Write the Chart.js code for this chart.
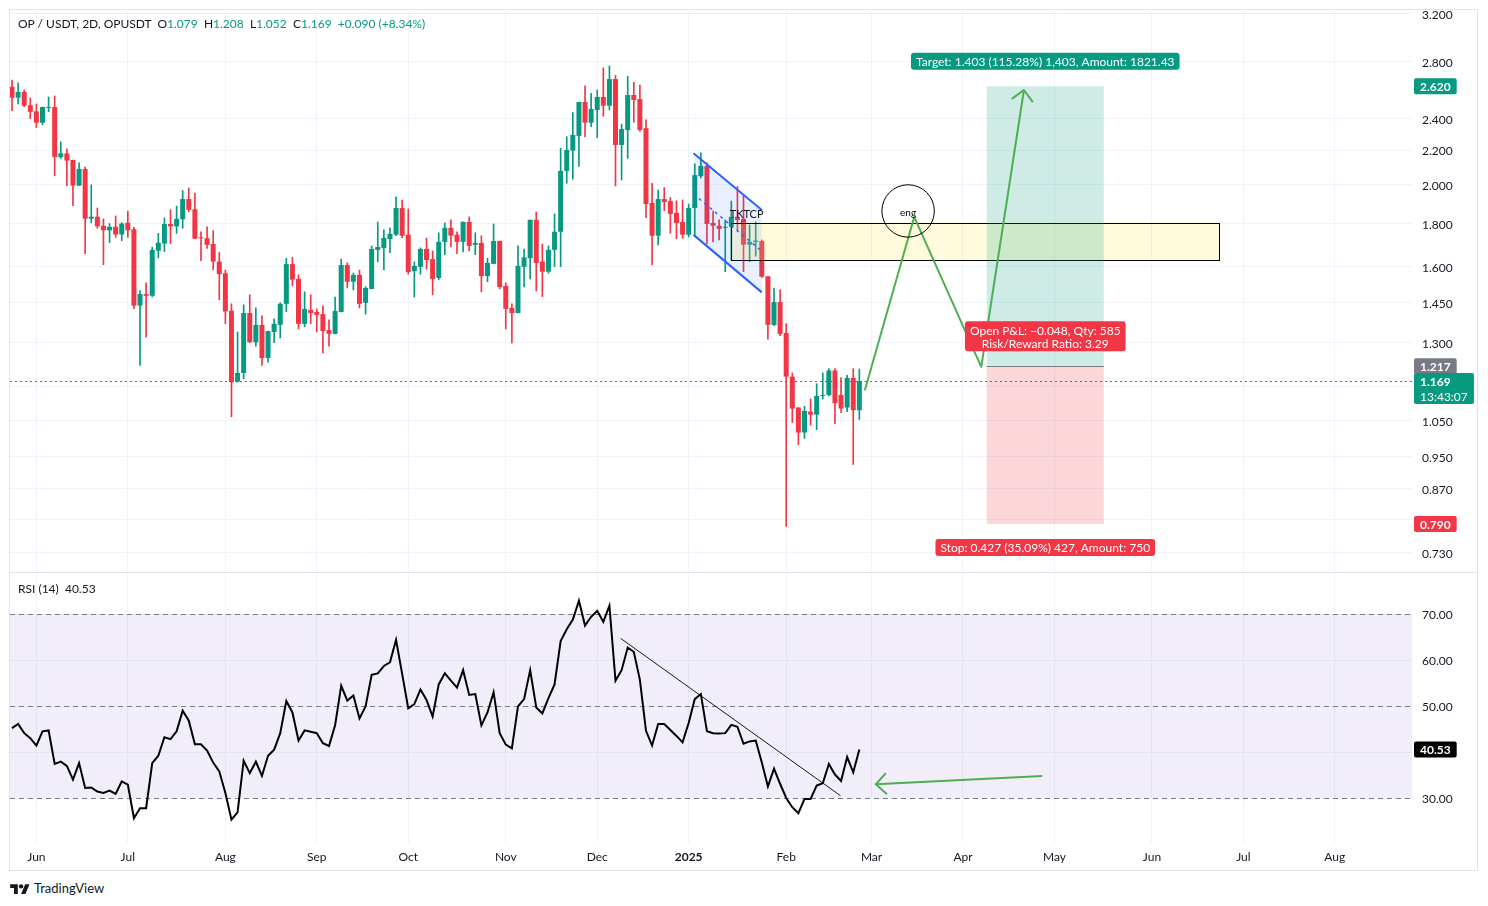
<!DOCTYPE html>
<html lang="en">
<head>
<meta charset="UTF-8">
<title>OP / USDT, 2D</title>
<script src="https://cdn.jsdelivr.net/npm/chart.js"></script>
<style>
  html, body { margin: 0; padding: 0; background: #fff; }
  body { width: 1488px; height: 906px; position: relative; overflow: hidden;
         font-family: Lato, "Liberation Sans", Arial, sans-serif; color: #131722; }
  #frame { position: absolute; left: 9px; top: 9px; width: 1469px; height: 862px;
           border: 1px solid #e0e3eb; box-sizing: border-box; }
  #sep { position: absolute; left: 9px; top: 572px; width: 1469px; height: 1px; background: #e0e3eb; }
  canvas { position: absolute; left: 0; }
  #price { top: 0; }
  #rsi { top: 573px; }
  .legend { position: absolute; left: 18px; font-size: 12px; white-space: pre; line-height: 14px; }
  .g { color: #089981; }
  #logo { position: absolute; left: 10px; top: 880px; height: 16px; display: flex; align-items: center; gap: 4px;
          font-size: 13px; color: #131722; }
</style>
</head>
<body>
<div id="frame"></div>
<div id="sep"></div>
<canvas id="price" width="1488" height="573"></canvas>
<canvas id="rsi" width="1488" height="300"></canvas>
<div class="legend" id="legend" style="top:17px"></div>
<div class="legend" id="rsiLegend" style="top:582px"></div>
<div id="logo">
  <svg width="20" height="12" viewBox="0 0 36 22"><path d="M14 22H7V11H0V4h14v18zM28 22h-8l7.5-18h8L28 22z" fill="#131722"/><circle cx="20" cy="8" r="4" fill="#131722"/></svg>
  <span>TradingView</span>
</div>
<script>
// 2D candles, OP/USDT, bar 0 = late May 2024
const open = [
  2.617,2.539,2.579,2.487,2.446,2.371,2.468,2.475,2.157,2.180,
  2.141,1.996,2.089,1.823,1.833,1.788,1.766,1.783,1.746,1.803,
  1.771,1.437,1.483,1.476,1.670,1.703,1.797,1.785,1.820,1.924,
  1.871,1.731,1.728,1.701,1.621,1.570,1.417,1.167,1.195,1.408,
  1.300,1.363,1.245,1.337,1.363,1.444,1.610,1.546,1.367,1.420,
  1.412,1.404,1.344,1.330,1.412,1.606,1.534,1.563,1.448,1.504,
  1.674,1.682,1.724,1.745,1.877,1.745,1.579,1.598,1.678,1.632,
  1.550,1.711,1.778,1.745,1.711,1.807,1.697,1.706,1.558,1.611,
  1.715,1.517,1.428,1.408,1.598,1.636,1.817,1.621,1.577,1.674,
  1.759,2.078,2.197,2.287,2.509,2.371,2.455,2.544,2.484,2.672,
  2.231,2.324,2.558,2.530,2.336,1.903,1.740,1.924,1.913,1.852,
  1.807,1.745,1.877,2.048,2.107,1.802,1.788,1.778,1.783,1.832,
  1.822,1.698,1.711,1.715,1.557,1.363,1.451,1.333,1.183,1.087,
  1.015,1.075,1.066,1.122,1.125,1.203,1.125,1.087,1.179,1.079
];
const high = [
  2.665,2.645,2.593,2.537,2.495,2.475,2.544,2.551,2.250,2.207,
  2.141,2.124,2.100,2.000,1.877,1.822,1.799,1.837,1.803,1.862,
  1.780,1.497,1.529,1.686,1.751,1.827,1.868,1.887,1.969,1.983,
  1.956,1.759,1.783,1.764,1.662,1.584,1.444,1.337,1.440,1.480,
  1.428,1.397,1.340,1.386,1.448,1.636,1.640,1.563,1.492,1.480,
  1.424,1.436,1.382,1.471,1.632,1.615,1.571,1.584,1.513,1.692,
  1.807,1.768,1.778,1.935,1.919,1.872,1.620,1.683,1.729,1.669,
  1.754,1.802,1.817,1.759,1.807,1.832,1.754,1.740,1.636,1.797,
  1.715,1.529,1.444,1.692,1.678,1.817,1.857,1.701,1.692,1.847,
  2.211,2.282,2.437,2.509,2.623,2.569,2.593,2.755,2.769,2.700,
  2.362,2.693,2.648,2.628,2.389,2.009,1.972,1.985,1.932,1.915,
  1.919,1.898,2.118,2.184,2.124,1.862,1.817,1.817,1.913,1.991,
  1.940,1.792,1.807,1.720,1.557,1.508,1.500,1.367,1.195,1.087,
  1.091,1.113,1.160,1.195,1.209,1.209,1.180,1.187,1.209,1.208
];
const low = [
  2.450,2.497,2.477,2.397,2.339,2.358,2.443,2.050,2.150,1.996,
  1.889,1.996,1.657,1.803,1.776,1.607,1.707,1.732,1.717,1.732,
  1.425,1.220,1.318,1.472,1.638,1.666,1.703,1.751,1.776,1.858,
  1.726,1.625,1.680,1.585,1.460,1.368,1.060,1.165,1.176,1.298,
  1.286,1.220,1.231,1.298,1.315,1.413,1.517,1.348,1.356,1.367,
  1.337,1.262,1.286,1.330,1.412,1.508,1.500,1.428,1.404,1.504,
  1.620,1.584,1.661,1.740,1.731,1.566,1.471,1.566,1.588,1.480,
  1.542,1.652,1.688,1.657,1.665,1.669,1.652,1.492,1.534,1.611,
  1.504,1.348,1.297,1.408,1.512,1.546,1.496,1.473,1.570,1.599,
  1.599,2.009,2.032,2.104,2.282,2.345,2.276,2.413,2.455,1.994,
  2.027,2.150,2.374,2.315,1.828,1.606,1.697,1.863,1.752,1.726,
  1.728,1.734,1.740,2.038,1.701,1.711,1.720,1.577,1.628,1.768,
  1.577,1.621,1.645,1.552,1.311,1.360,1.323,0.785,1.043,0.982,
  0.999,1.036,1.023,1.113,1.122,1.040,1.072,1.075,0.930,1.052
];
const close = [
  2.539,2.579,2.484,2.443,2.371,2.475,2.475,2.158,2.180,2.137,
  1.996,2.089,1.823,1.833,1.785,1.766,1.783,1.746,1.799,1.766,
  1.437,1.483,1.476,1.674,1.707,1.797,1.785,1.822,1.924,1.868,
  1.726,1.728,1.697,1.621,1.566,1.414,1.165,1.195,1.408,1.300,
  1.363,1.245,1.340,1.367,1.444,1.610,1.543,1.367,1.424,1.408,
  1.401,1.340,1.330,1.416,1.606,1.534,1.563,1.444,1.508,1.678,
  1.687,1.729,1.749,1.877,1.740,1.575,1.602,1.678,1.628,1.546,
  1.711,1.778,1.740,1.711,1.807,1.692,1.706,1.558,1.615,1.715,
  1.512,1.424,1.408,1.602,1.640,1.817,1.615,1.577,1.674,1.759,
  2.078,2.201,2.293,2.509,2.371,2.462,2.544,2.484,2.672,2.231,
  2.330,2.558,2.523,2.324,1.898,1.740,1.924,1.908,1.847,1.802,
  1.745,1.877,2.054,2.107,1.797,1.788,1.773,1.783,1.832,1.817,
  1.698,1.711,1.717,1.555,1.363,1.451,1.330,1.183,1.084,1.015,
  1.077,1.066,1.122,1.125,1.203,1.100,1.084,1.179,1.079,1.169
];
const rsi = [
  45.2,46.1,44.1,43.0,41.4,44.5,44.7,37.4,37.9,37.0,
  34.0,37.6,32.2,32.3,31.4,31.1,31.6,30.9,33.6,32.9,
  25.6,27.8,27.8,37.6,39.2,43.2,42.8,44.5,49.0,46.8,
  41.7,41.7,40.3,37.7,35.8,31.1,25.3,26.9,38.1,35.4,
  37.9,34.8,39.2,40.5,44.1,51.1,48.6,42.5,44.7,44.4,
  44.1,41.9,41.3,45.8,54.4,51.2,52.3,47.3,49.9,56.8,
  57.1,58.7,59.5,64.4,57.0,49.5,50.4,53.6,51.3,47.7,
  54.7,57.1,55.5,54.0,57.8,52.4,52.6,45.8,48.6,53.0,
  44.1,41.6,40.8,49.9,51.5,57.8,49.7,48.4,51.7,54.7,
  64.1,66.7,68.8,72.9,67.5,69.4,70.7,68.3,71.8,55.5,
  57.8,62.7,61.8,55.7,44.6,41.4,46.1,46.1,44.8,43.5,
  42.1,46.3,51.5,52.6,44.5,44.1,44.0,44.1,45.9,45.5,
  41.8,42.3,42.5,37.7,32.5,36.4,33.1,30.0,28.0,26.7,
  29.8,29.8,32.7,33.2,37.4,35.1,33.7,38.9,35.6,40.53
];

// time axis: bar index where each month starts
const monthBars = [4, 19, 35, 50, 65, 81, 96, 111, 127, 141, 156, 171, 187, 202, 217];
const monthLabels = ['Jun','Jul','Aug','Sep','Oct','Nov','Dec','2025','Feb','Mar','Apr','May','Jun','Jul','Aug'];
const priceTicks = [3.2, 2.8, 2.4, 2.2, 2.0, 1.8, 1.6, 1.45, 1.3, 1.15, 1.05, 0.95, 0.87, 0.8, 0.73];
const rsiTicks = [70, 60, 50, 40, 30];
const rsiLevels = [70, 50, 30];

// drawings, in bar index / price
const zone = { from: 117.9, to: 198.0, top: 1.804, bottom: 1.628 };
const channelUpper = [[111.8, 2.181], [123.0, 1.867]];
const channelLower = [[111.8, 1.744], [123.0, 1.490]];
const pathPoints = [[139.9, 1.140], [148.0, 1.832], [159.0, 1.215], [166.0, 2.593]];
const circle = { bar: 147.0, price: 1.862, edgeBar: 151.3 };
const position = { from: 159.9, to: 179.1, entry: 1.217, target: 2.620, stop: 0.790 };
const rsiTrend = [[99.85, 64.7], [135.9, 30.5]];
const rsiArrow = [[169.0, 34.8], [141.7, 33.0]];

const GREEN = '#089981', RED = '#f23645', TEXT = '#131722', GRID = '#f0f3fa';
const FONT = 'Lato, "Liberation Sans", Arial, sans-serif';
const X_MIN = -0.33, X_MAX = 229.66;

const last = open.length - 1;
const change = close[last] - close[last - 1];
const fmt3 = v => v.toFixed(3);

document.getElementById('legend').innerHTML =
  'OP / USDT, 2D, OPUSDT  ' +
  'O<span class="g">' + fmt3(open[last]) + '</span>  ' +
  'H<span class="g">' + fmt3(high[last]) + '</span>  ' +
  'L<span class="g">' + fmt3(low[last]) + '</span>  ' +
  'C<span class="g">' + fmt3(close[last]) + '</span>  ' +
  '<span class="g">+' + fmt3(change) + ' (+' + (change / close[last - 1] * 100).toFixed(2) + '%)</span>';
document.getElementById('rsiLegend').textContent = 'RSI (14)  ' + rsi[last].toFixed(2);

const colors = open.map((o, i) => close[i] >= o ? GREEN : RED);
const wicks = open.map((o, i) => ({ x: i, y: [low[i], high[i]] }));
const bodies = open.map((o, i) => ({ x: i, y: [Math.min(o, close[i]), Math.max(o, close[i])] }));

function label(ctx, lines, cx, cy, bg) {
  ctx.font = '12px ' + FONT;
  const w = Math.max(...lines.map(t => ctx.measureText(t).width)) + 10;
  const h = lines.length * 13 + 4;
  ctx.fillStyle = bg;
  ctx.beginPath();
  ctx.roundRect(cx - w / 2, cy - h / 2, w, h, 3);
  ctx.fill();
  ctx.fillStyle = '#fff';
  ctx.textAlign = 'center';
  ctx.textBaseline = 'middle';
  lines.forEach((t, k) => ctx.fillText(t, cx, cy + 1 - (lines.length - 1) * 6.5 + k * 13));
}

function badge(ctx, lines, left, cy, bg) {
  ctx.font = 'bold 12px ' + FONT;
  const w = Math.max(...lines.map(t => ctx.measureText(t).width)) + 12;
  const h = lines.length * 15 + 1;
  ctx.fillStyle = bg;
  ctx.beginPath();
  ctx.roundRect(left, cy - 8, w, h, 2);
  ctx.fill();
  ctx.fillStyle = '#fff';
  ctx.textAlign = 'left';
  ctx.textBaseline = 'middle';
  lines.forEach((t, k) => {
    ctx.font = (k === 0 ? 'bold ' : '') + '12px ' + FONT;
    ctx.fillText(t, left + 6, cy + 1 + k * 15);
  });
}

function arrowHead(ctx, fx, fy, tx, ty, len) {
  const a = Math.atan2(ty - fy, tx - fx);
  ctx.beginPath();
  ctx.moveTo(tx - len * Math.cos(a - Math.PI / 4), ty - len * Math.sin(a - Math.PI / 4));
  ctx.lineTo(tx, ty);
  ctx.lineTo(tx - len * Math.cos(a + Math.PI / 4), ty - len * Math.sin(a + Math.PI / 4));
  ctx.stroke();
}

const priceDrawings = {
  id: 'priceDrawings',
  afterDatasetsDraw(chart) {
    const { ctx, chartArea: a, scales: { x, y } } = chart;
    const X = v => x.getPixelForValue(v), Y = v => y.getPixelForValue(v);
    ctx.save();
    ctx.beginPath();
    ctx.rect(a.left, a.top, a.right - a.left, a.bottom - a.top);
    ctx.clip();

    // supply zone
    const zx0 = X(zone.from), zx1 = X(zone.to), zy0 = Y(zone.top), zy1 = Y(zone.bottom);
    ctx.fillStyle = 'rgba(255, 235, 59, 0.18)';
    ctx.fillRect(zx0, zy0, zx1 - zx0, zy1 - zy0);
    ctx.strokeStyle = '#000';
    ctx.lineWidth = 1;
    ctx.strokeRect(Math.round(zx0) + 0.5, Math.round(zy0) + 0.5, Math.round(zx1 - zx0), Math.round(zy1 - zy0));

    // falling channel
    const u = channelUpper.map(p => [X(p[0]), Y(p[1])]);
    const l = channelLower.map(p => [X(p[0]), Y(p[1])]);
    ctx.fillStyle = 'rgba(41, 98, 255, 0.1)';
    ctx.beginPath();
    ctx.moveTo(u[0][0], u[0][1]); ctx.lineTo(u[1][0], u[1][1]);
    ctx.lineTo(l[1][0], l[1][1]); ctx.lineTo(l[0][0], l[0][1]);
    ctx.closePath(); ctx.fill();
    ctx.strokeStyle = '#2962ff';
    ctx.lineWidth = 2;
    [u, l].forEach(s => { ctx.beginPath(); ctx.moveTo(s[0][0], s[0][1]); ctx.lineTo(s[1][0], s[1][1]); ctx.stroke(); });
    ctx.lineWidth = 1.5;
    ctx.setLineDash([3, 4]);
    ctx.beginPath();
    ctx.moveTo(u[0][0], (u[0][1] + l[0][1]) / 2);
    ctx.lineTo(u[1][0], (u[1][1] + l[1][1]) / 2);
    ctx.stroke();
    ctx.setLineDash([]);

    ctx.fillStyle = TEXT;
    ctx.font = '11px ' + FONT;
    ctx.textAlign = 'center';
    ctx.textBaseline = 'middle';
    ctx.fillText('TKTCP', X(120.5), Y(1.844));

    // long position tool
    const px0 = X(position.from), px1 = X(position.to);
    const yT = Y(position.target), yE = Y(position.entry), yS = Y(position.stop);
    ctx.fillStyle = 'rgba(8, 153, 129, 0.2)';
    ctx.fillRect(px0, yT, px1 - px0, yE - yT);
    ctx.fillStyle = 'rgba(242, 54, 69, 0.2)';
    ctx.fillRect(px0, yE, px1 - px0, yS - yE);
    ctx.strokeStyle = '#787b86';
    ctx.lineWidth = 1;
    ctx.beginPath(); ctx.moveTo(px0, Math.round(yE) + 0.5); ctx.lineTo(px1, Math.round(yE) + 0.5); ctx.stroke();

    // current price line
    ctx.strokeStyle = GREEN;
    ctx.setLineDash([2, 3]);
    const yC = Math.round(Y(close[last])) + 0.5;
    ctx.beginPath(); ctx.moveTo(a.left, yC); ctx.lineTo(a.right, yC); ctx.stroke();
    ctx.setLineDash([]);

    // projected path
    const pts = pathPoints.map(p => [X(p[0]), Y(p[1])]);
    ctx.strokeStyle = '#4caf50';
    ctx.lineWidth = 2;
    ctx.lineJoin = 'round';
    ctx.beginPath();
    pts.forEach((p, k) => k ? ctx.lineTo(p[0], p[1]) : ctx.moveTo(p[0], p[1]));
    ctx.stroke();
    const n = pts.length;
    arrowHead(ctx, pts[n - 2][0], pts[n - 2][1], pts[n - 1][0], pts[n - 1][1], 15);

    // circle with text
    const cx = X(circle.bar), cy = Y(circle.price), r = X(circle.edgeBar) - cx;
    ctx.strokeStyle = '#000';
    ctx.lineWidth = 1;
    ctx.beginPath(); ctx.arc(cx, cy, r, 0, Math.PI * 2); ctx.stroke();
    ctx.fillStyle = '#000';
    ctx.font = '10px ' + FONT;
    ctx.fillText('eng', cx, cy + 2);

    // position labels
    const mid = (px0 + px1) / 2;
    const reward = position.target - position.entry, risk = position.entry - position.stop;
    label(ctx, ['Target: ' + fmt3(reward) + ' (' + (reward / position.entry * 100).toFixed(2) + '%) 1,403, Amount: 1821.43'], mid, yT - 25, GREEN);
    label(ctx, ['Stop: ' + fmt3(risk) + ' (' + (risk / position.entry * 100).toFixed(2) + '%) 427, Amount: 750'], mid, yS + 23.5, RED);
    label(ctx, ['Open P&L: \u2212' + fmt3(position.entry - close[last]) + ', Qty: 585', 'Risk/Reward Ratio: ' + (reward / risk).toFixed(2)], mid, yE - 30, RED);
    ctx.restore();
  },
  afterDraw(chart) {
    const { ctx, chartArea: a, scales: { y } } = chart;
    ctx.save();
    const left = a.right + 2;
    badge(ctx, [position.target.toFixed(3)], left, y.getPixelForValue(position.target), GREEN);
    badge(ctx, [position.entry.toFixed(3)], left, y.getPixelForValue(position.entry), '#787b86');
    badge(ctx, [close[last].toFixed(3), '13:43:07'], left, y.getPixelForValue(close[last]), GREEN);
    badge(ctx, [position.stop.toFixed(3)], left, y.getPixelForValue(position.stop), RED);
    ctx.restore();
  }
};

const rsiDrawings = {
  id: 'rsiDrawings',
  beforeDatasetsDraw(chart) {
    const { ctx, chartArea: a, scales: { y } } = chart;
    ctx.save();
    const y70 = y.getPixelForValue(rsiLevels[0]), y30 = y.getPixelForValue(rsiLevels[2]);
    ctx.fillStyle = 'rgba(126, 87, 194, 0.1)';
    ctx.fillRect(a.left, y70, a.right - a.left, y30 - y70);
    ctx.strokeStyle = '#787b86';
    ctx.lineWidth = 1;
    ctx.setLineDash([5, 4]);
    rsiLevels.forEach(v => {
      const yy = Math.round(y.getPixelForValue(v)) + 0.5;
      ctx.beginPath(); ctx.moveTo(a.left, yy); ctx.lineTo(a.right, yy); ctx.stroke();
    });
    ctx.restore();
  },
  afterDatasetsDraw(chart) {
    const { ctx, scales: { x, y } } = chart;
    ctx.save();
    ctx.strokeStyle = '#4caf50';
    ctx.lineWidth = 2;
    arrowHead(ctx, x.getPixelForValue(rsiArrow[0][0]), y.getPixelForValue(rsiArrow[0][1]),
              x.getPixelForValue(rsiArrow[1][0]), y.getPixelForValue(rsiArrow[1][1]), 15);
    ctx.restore();
  },
  afterDraw(chart) {
    const { ctx, chartArea: a, scales: { y } } = chart;
    ctx.save();
    badge(ctx, [rsi[last].toFixed(2)], a.right + 2, y.getPixelForValue(rsi[last]), '#000');
    ctx.restore();
  }
};

const xAxis = (showLabels) => ({
  type: 'linear', min: X_MIN, max: X_MAX, offset: false,
  grid: { color: GRID, drawTicks: false, offset: false },
  border: { display: false },
  ticks: {
    display: showLabels, autoSkip: false, maxRotation: 0, padding: 7, color: TEXT,
    font: c => ({ size: 12, family: FONT, weight: c.tick && c.tick.value === 111 ? 'bold' : 'normal' }),
    callback: v => monthLabels[monthBars.indexOf(v)]
  },
  afterBuildTicks: s => { s.ticks = monthBars.map(v => ({ value: v })); },
  afterFit: s => { s.height = showLabels ? 30 : 0; s.paddingLeft = 0; s.paddingRight = 0; }
});

new Chart(document.getElementById('price'), {
  type: 'bar',
  data: {
    datasets: [
      { data: wicks, backgroundColor: colors, grouped: false, maxBarThickness: 1,
        barPercentage: 1, categoryPercentage: 1, borderWidth: 0 },
      { data: bodies, backgroundColor: colors, grouped: false, barPercentage: 0.82,
        categoryPercentage: 1, minBarLength: 1, borderWidth: 0 }
    ]
  },
  options: {
    responsive: false, animation: false, events: [],
    layout: { padding: { left: 10, top: 9, right: 0, bottom: 1 }, autoPadding: false },
    plugins: { legend: { display: false }, tooltip: { enabled: false } },
    scales: {
      x: xAxis(false),
      y: {
        type: 'logarithmic', position: 'right', min: 0.6929, max: 3.237,
        grid: { color: GRID, drawTicks: false }, border: { display: false },
        ticks: { autoSkip: false, padding: 10, labelOffset: 1.5, color: TEXT, font: { size: 12, family: FONT },
                 callback: v => Number(v).toFixed(3) },
        afterBuildTicks: s => { s.ticks = priceTicks.map(v => ({ value: v })); },
        afterFit: s => { s.width = 76; s.paddingTop = 0; s.paddingBottom = 0; }
      }
    }
  },
  plugins: [priceDrawings]
});

new Chart(document.getElementById('rsi'), {
  type: 'line',
  data: {
    datasets: [
      { data: rsi.map((v, i) => ({ x: i, y: v })), borderColor: '#000', borderWidth: 2,
        pointRadius: 0, tension: 0 },
      { data: rsiTrend.map(p => ({ x: p[0], y: p[1] })), borderColor: TEXT, borderWidth: 1, pointRadius: 0 },
      { data: rsiArrow.map(p => ({ x: p[0], y: p[1] })), borderColor: '#4caf50', borderWidth: 2, pointRadius: 0 }
    ]
  },
  options: {
    responsive: false, animation: false, events: [],
    layout: { padding: { left: 10, top: 1, right: 0, bottom: 0 }, autoPadding: false },
    plugins: { legend: { display: false }, tooltip: { enabled: false } },
    scales: {
      x: xAxis(true),
      y: {
        type: 'linear', position: 'right', min: 20.22, max: 78.70,
        grid: { color: GRID, drawTicks: false }, border: { display: false },
        ticks: { autoSkip: false, padding: 10, labelOffset: 1.5, color: TEXT, font: { size: 12, family: FONT },
                 callback: v => Number(v).toFixed(2) },
        afterBuildTicks: s => { s.ticks = rsiTicks.map(v => ({ value: v })); },
        afterFit: s => { s.width = 76; s.paddingTop = 0; s.paddingBottom = 0; }
      }
    }
  },
  plugins: [rsiDrawings]
});
</script>
</body>
</html>
